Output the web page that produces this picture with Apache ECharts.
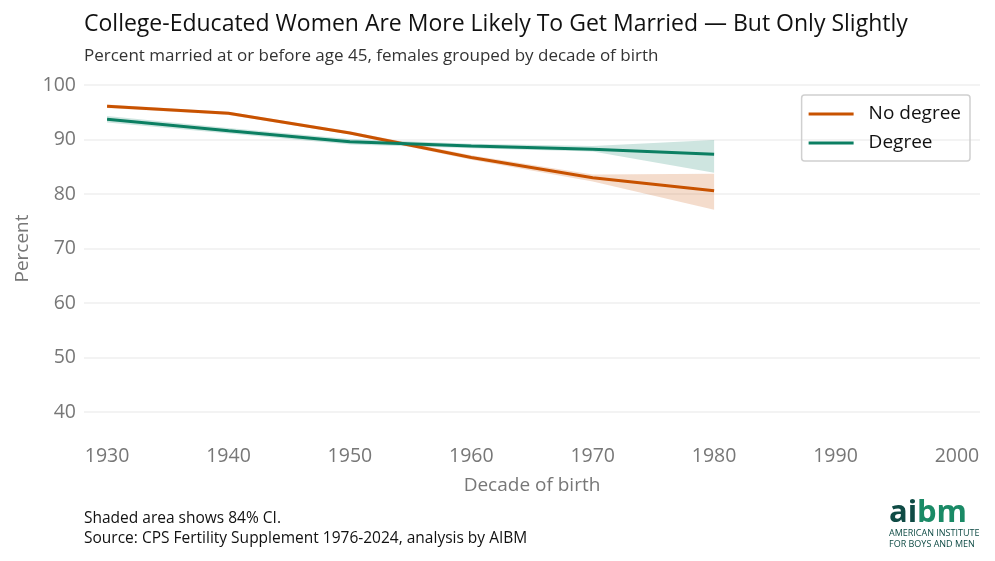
<!DOCTYPE html>
<html>
<head>
<meta charset="utf-8">
<script src="https://cdn.jsdelivr.net/npm/echarts@6/dist/echarts.min.js"></script>
<style>
  html, body { margin: 0; padding: 0; background: #fff; }
  #chart { width: 995px; height: 561px; }
</style>
</head>
<body>
<div id="chart"></div>
<script>
// decades of birth
const decades = [1930, 1940, 1950, 1960, 1970, 1980];
const xTicks = [1930, 1940, 1950, 1960, 1970, 1980, 1990, 2000];

// percent married by 45
const noDegree = [96.1, 94.8, 91.2, 86.7, 83.0, 80.6];
const noDegreeLow = [95.8, 94.5, 90.9, 86.3, 82.3, 77.1];
const noDegreeHigh = [96.4, 95.1, 91.5, 87.1, 83.6, 83.7];

const degree = [93.7, 91.6, 89.6, 88.8, 88.2, 87.3];
const degreeLow = [93.1, 91.1, 89.1, 88.4, 87.8, 83.9];
const degreeHigh = [94.3, 92.1, 90.1, 89.2, 88.8, 89.9];

const ORANGE = '#c85200';
const GREEN = '#0b7f62';
const FONT = '"Open Sans", "Noto Sans", sans-serif';

const chart = echarts.init(document.getElementById('chart'), null, { renderer: 'canvas' });

const pairs = (ys) => decades.map((d, i) => [d, ys[i]]);

// confidence band drawn as one polygon (lower edge forward, upper edge back)
function band(lo, hi, color) {
    return {
        type: 'custom',
        silent: true,
        z: 1,
        data: decades.map((d, i) => [d, lo[i], hi[i]]),
        encode: { x: 0, y: [1, 2] },
        renderItem: (params, api) => {
            if (params.dataIndex !== 0) return null;
            const pts = [];
            decades.forEach((d, i) => pts.push(api.coord([d, lo[i]])));
            for (let i = decades.length - 1; i >= 0; i--) pts.push(api.coord([decades[i], hi[i]]));
            return {
                type: 'polygon',
                shape: { points: pts },
                style: { fill: color, opacity: 0.2 }
            };
        }
    };
}

chart.setOption({
    animation: false,
    textStyle: { fontFamily: FONT },
    title: [
        {
            text: 'College-Educated Women Are More Likely To Get Married — But Only Slightly',
            left: 79, top: 8,
            textStyle: { fontSize: 23, fontWeight: 'normal', color: '#111', fontFamily: FONT }
        },
        {
            text: 'Percent married at or before age 45, females grouped by decade of birth',
            left: 79, top: 43,
            textStyle: { fontSize: 17, fontWeight: 'normal', color: '#333', fontFamily: FONT }
        }
    ],
    legend: {
        data: ['No degree', 'Degree'],
        orient: 'vertical',
        right: 25, top: 95,
        padding: [8, 9, 7, 7],
        itemGap: 7,
        itemWidth: 45, itemHeight: 3,
        borderColor: '#d0d0d0', borderWidth: 1.5, borderRadius: 3,
        icon: 'rect',
        textStyle: { fontSize: 19, lineHeight: 22, color: '#111', fontFamily: FONT, padding: [0, 0, 0, 10] }
    },
    grid: { left: 84, right: 15, top: 85, bottom: 149, containLabel: false },
    xAxis: {
        type: 'value', min: 1928.1, max: 2001.9,
        name: 'Decade of birth', nameLocation: 'middle', nameGap: 64,
        nameTextStyle: { fontSize: 19, color: '#777', fontFamily: FONT },
        axisLine: { show: false }, axisTick: { show: false },
        splitLine: { show: false },
        axisLabel: {
            customValues: xTicks, margin: 34,
            formatter: (v) => String(v),
            fontSize: 19.5, color: '#777', fontFamily: FONT
        }
    },
    yAxis: {
        type: 'value', min: 40, max: 100, interval: 10,
        name: 'Percent', nameLocation: 'middle', nameGap: 42, nameRotate: 90,
        nameTextStyle: { fontSize: 19, color: '#777', fontFamily: FONT },
        axisLine: { show: false }, axisTick: { show: false },
        splitLine: { lineStyle: { color: '#efefef', width: 1.5 } },
        axisLabel: { margin: 8, fontSize: 19.5, color: '#777', fontFamily: FONT }
    },
    series: [
        band(noDegreeLow, noDegreeHigh, ORANGE),
        band(degreeLow, degreeHigh, GREEN),
        {
            type: 'line', name: 'No degree', data: pairs(noDegree),
            showSymbol: false, color: ORANGE, lineStyle: { width: 3, color: ORANGE }, z: 3
        },
        {
            type: 'line', name: 'Degree', data: pairs(degree),
            showSymbol: false, color: GREEN, lineStyle: { width: 3, color: GREEN }, z: 4
        }
    ],
    graphic: [
        {
            type: 'text', left: 84, top: 511,
            style: { text: 'Shaded area shows 84% CI.', font: '15.5px ' + FONT, fill: '#111' }
        },
        {
            type: 'text', left: 84, top: 531,
            style: { text: 'Source: CPS Fertility Supplement 1976-2024, analysis by AIBM', font: '15.5px ' + FONT, fill: '#111' }
        },
        {
            type: 'text', left: 889, top: 498,
            style: { text: 'ai', font: 'bold 31px ' + FONT, fill: '#0f4b45' }
        },
        {
            type: 'text', left: 917, top: 498,
            style: { text: 'bm', font: 'bold 31px ' + FONT, fill: '#1a8a66' }
        },
        {
            type: 'text', left: 889, top: 529,
            style: { text: 'AMERICAN INSTITUTE', font: '9px ' + FONT, fill: '#0f4b45' }
        },
        {
            type: 'text', left: 889, top: 540,
            style: { text: 'FOR BOYS AND MEN', font: '9px ' + FONT, fill: '#0f4b45' }
        }
    ]
});
</script>
</body>
</html>
